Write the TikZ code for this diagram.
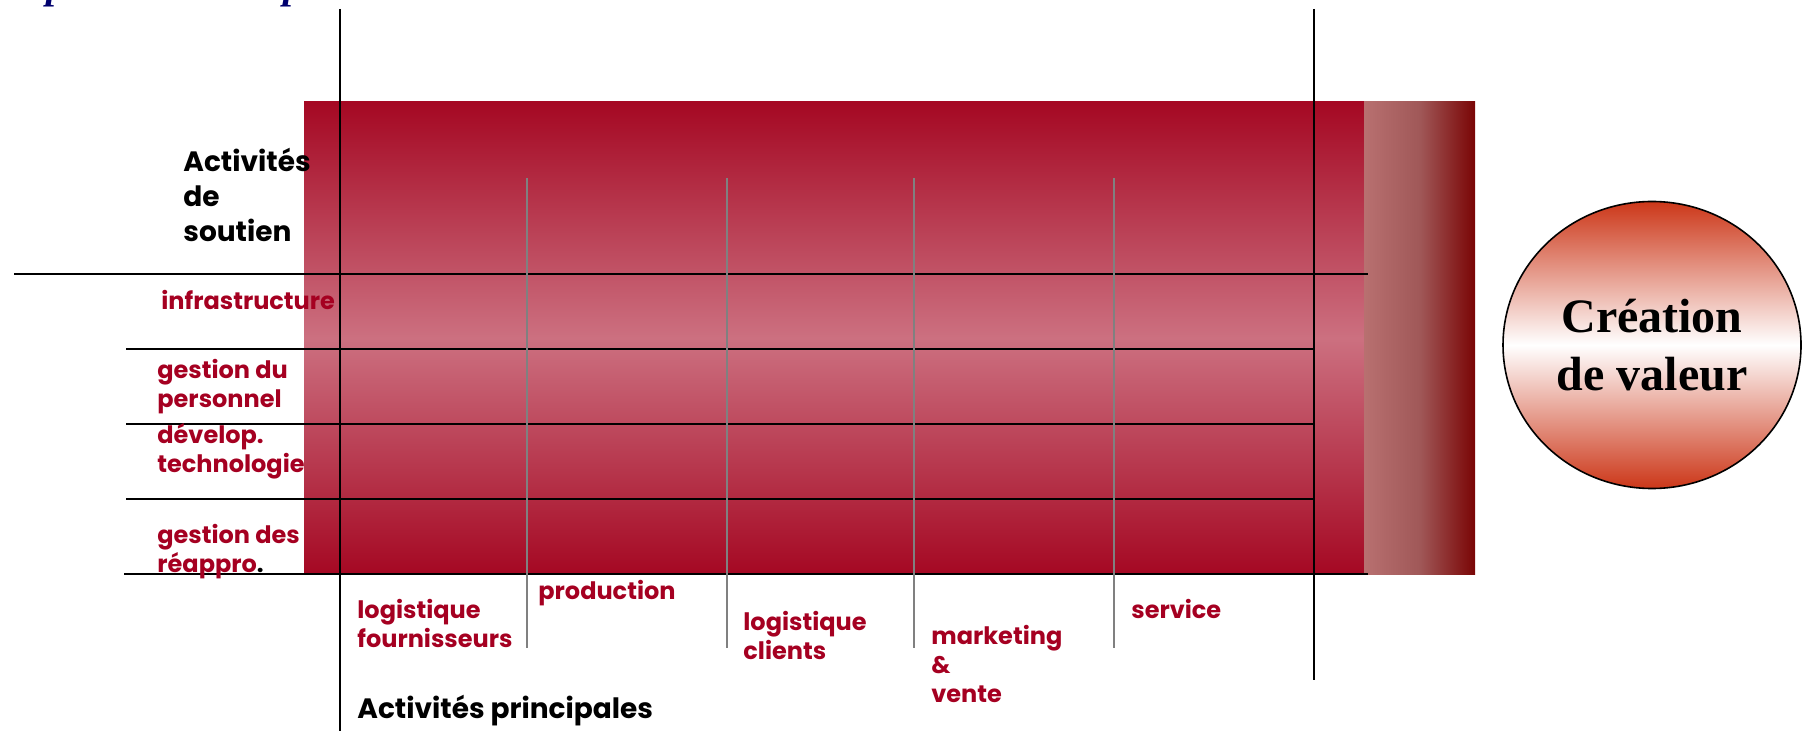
\documentclass[tikz,border=0pt]{standalone}
\usepackage{fontspec}
\setmainfont{Liberation Serif}
\setsansfont{Poppins}
\usetikzlibrary{shapes.geometric}
\definecolor{chainred}{RGB}{165,8,35}
\definecolor{chainpink}{RGB}{204,112,128}
\definecolor{marginlight}{RGB}{184,112,112}
\definecolor{marginmid}{RGB}{160,88,88}
\definecolor{margindark}{RGB}{122,5,5}
\definecolor{labelred}{RGB}{165,0,33}
\definecolor{valeurred}{RGB}{204,55,25}
\definecolor{titleblue}{RGB}{0,0,110}

\begin{document}
\begin{tikzpicture}[x=0.5pt, y=-0.5pt,
	grille/.style={black, line width=1pt},
	separ/.style={gray, line width=0.85pt},
	titre/.style={anchor=base west, align=left, inner sep=0pt, font=\sffamily\bfseries\fontsize{14}{17.5}\selectfont},
	activite/.style={anchor=base west, align=left, inner sep=0pt, text=labelred, font=\sffamily\bfseries\fontsize{12}{14.5}\selectfont}]
	\useasboundingbox (0,0) rectangle (1802,731);
	% fond de la chaine
	\shade[top color=chainred, bottom color=chainred, middle color=chainpink] (304,102) rectangle (1364,574);
	\shade[left color=marginlight, right color=margindark, middle color=marginmid] (1364,102) rectangle (1475,574);
	% titre coupe
	\node[anchor=base west, inner sep=0pt, text=titleblue, font=\bfseries\itshape\fontsize{20}{24}\selectfont] (titre1) at (46,-1) {p};
	\node[anchor=base west, inner sep=0pt, text=titleblue, font=\bfseries\itshape\fontsize{20}{24}\selectfont] (titre2) at (283,-1) {p};
	% grille
	\draw[grille] (340,9) -- (340,731);
	\draw[grille] (1314,9) -- (1314,680);
	\draw[grille] (14,274) -- (1368,274);
	\foreach \y in {349,424,499}
		\draw[grille] (126,\y) -- (1314,\y);
	\draw[grille] (124,574) -- (1368,574);
	\foreach \x in {527,727,914,1114}
		\draw[separ] (\x,178) -- (\x,648);
	% activites de soutien (ancre sur la derniere ligne)
	\node[titre] (soutien) at (183,242) {Activités\\de\\soutien};
	\node[activite] (infra) at (161,310) {infrastructure};
	\node[activite] (personnel) at (157,408) {gestion du\\personnel};
	\node[activite] (techno) at (157,473) {dévelop.\\technologie};
	\node[activite] (appro) at (157,572) {gestion des\\réappro\textcolor{black}{.}};
	% activites principales
	\node[activite] (logfour) at (357,647) {logistique\\fournisseurs};
	\node[activite] (prod) at (538,599) {production};
	\node[activite] (logcli) at (743,659) {logistique\\clients};
	\node[activite] (vente) at (931,702) {marketing\\\&\\vente};
	\node[activite] (service) at (1131,618) {service};
	\node[titre] (principales) at (357,718) {Activités principales};
	% marge
	\node[ellipse, draw, line width=0.8pt, minimum width=149pt, minimum height=143.5pt,
		top color=valeurred, bottom color=valeurred, middle color=white, align=center,
		font=\bfseries\fontsize{24}{29}\selectfont] (valeur) at (1652,345) {Création\\de valeur};
\end{tikzpicture}
\end{document}
